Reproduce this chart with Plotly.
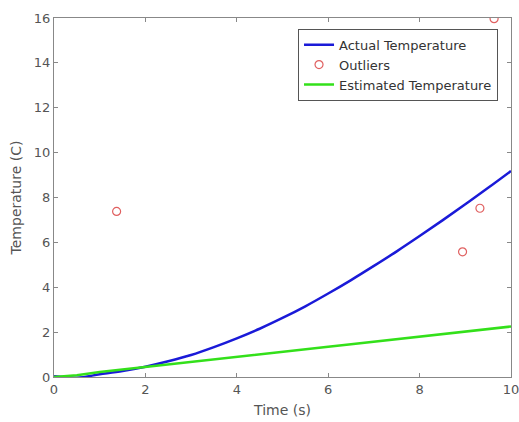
import plotly.graph_objects as go

time_s = [0, 0.5, 1, 1.5, 2, 2.5, 3, 3.5, 4, 4.5, 5, 5.5, 6, 6.5, 7, 7.5, 8, 8.5, 9, 9.5, 10]
actual_temp = [0.03, -0.03, 0.12, 0.27, 0.46, 0.70, 0.98, 1.33, 1.72, 2.15, 2.63, 3.15, 3.72, 4.32,
               4.95, 5.60, 6.28, 6.98, 7.70, 8.43, 9.18]
estimated_temp = [0.0, 0.08, 0.22, 0.33, 0.45, 0.56, 0.67, 0.78, 0.90, 1.01, 1.12, 1.23, 1.35, 1.46,
                  1.57, 1.68, 1.80, 1.91, 2.02, 2.13, 2.25]
outlier_t = [1.37, 8.94, 9.32, 9.63]
outlier_temp = [7.38, 5.58, 7.52, 15.97]

x_ticks = [0, 2, 4, 6, 8, 10]
y_ticks = [0, 2, 4, 6, 8, 10, 12, 14, 16]

font = "DejaVu Sans"
gray = "#555555"

fig = go.Figure()
fig.add_trace(go.Scatter(x=time_s, y=actual_temp, mode="lines", name="Actual Temperature",
                         line=dict(color="#1a1ad8", width=2.5, shape="spline")))
fig.add_trace(go.Scatter(x=outlier_t, y=outlier_temp, mode="markers", name="Outliers",
                         marker=dict(symbol="circle-open", size=8, color="#e06060", line=dict(width=1.2))))
fig.add_trace(go.Scatter(x=time_s, y=estimated_temp, mode="lines", name="Estimated Temperature",
                         line=dict(color="#33e01a", width=2.5)))

axis_common = dict(showline=True, mirror="ticks", linecolor="#888888", linewidth=1.2,
                   ticks="inside", ticklen=4, tickcolor="#888888", showgrid=False, zeroline=False,
                   ticklabeloverflow="allow", automargin=False,
                   tickfont=dict(family=font, size=13, color=gray))

fig.update_layout(
    width=519, height=422,
    margin=dict(l=54, r=8, t=18, b=45),
    paper_bgcolor="white", plot_bgcolor="white",
    font=dict(family=font, size=13, color=gray),
    xaxis=dict(range=[0, 10], tickvals=x_ticks,
               title=dict(text="Time (s)", font=dict(family=font, size=14, color=gray), standoff=9),
               **axis_common),
    yaxis=dict(range=[0, 16], tickvals=y_ticks,
               title=dict(text="Temperature (C)", font=dict(family=font, size=14, color=gray), standoff=8),
               **axis_common),
    legend=dict(x=0.9716, y=0.97, xanchor="right", yanchor="top", bgcolor="white",
                bordercolor="#555555", borderwidth=1, tracegroupgap=0,
                font=dict(family=font, size=13, color="#333333"), itemwidth=30),
    showlegend=True,
)

fig.write_html("out.html")
